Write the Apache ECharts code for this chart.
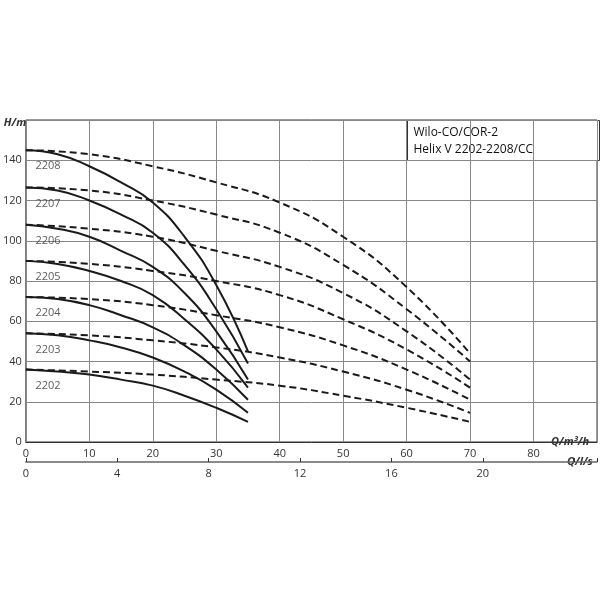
<!DOCTYPE html>
<html>
<head>
  <meta charset="utf-8">
  <style>
  body { margin: 0; background: #fff; }
  #chart { width: 600px; height: 600px; }
  </style>
</head>
<body>
  <div id="chart"></div>
  <script src="https://cdn.jsdelivr.net/npm/echarts@6/dist/echarts.min.js"></script>
  <script>
  // single pump curves, Q in m³/h
  const singleQ = [0, 5, 10, 15, 20, 25, 30, 35];
  // two pumps in parallel
  const dualQ = [0, 10, 20, 30, 40, 50, 60, 70];
  const pumpNames = ['2208', '2207', '2206', '2205', '2204', '2203', '2202'];
  const singleH = [
    [145, 143, 137, 129, 119, 102, 78, 45],
    [126.5, 125, 120, 113, 104, 88, 66, 39],
    [108, 106, 102, 95, 87, 74, 55, 31],
    [90, 88.5, 85, 80, 73, 61, 46, 27],
    [72, 71, 68, 63, 57, 48, 36, 21],
    [54, 53, 50.5, 47, 42, 35, 26, 14.5],
    [36, 35, 33.5, 31, 28, 23, 17, 10]
  ];
  const dualH = [
    [145, 143, 137, 129, 119, 102, 77, 44],
    [126.5, 125, 120, 113, 104, 88, 66, 40],
    [108, 106, 102, 95, 87, 74, 55, 31],
    [90, 88.5, 85, 80, 73, 61, 46, 27],
    [72, 71, 68, 63, 57, 48, 36, 21],
    [54, 53, 50.5, 47, 42, 35, 26, 14.5],
    [36, 35, 33.5, 31, 28, 23, 17, 10]
  ];
  const labelH = [137, 118.5, 100, 82, 64, 46, 28];

  const series = [];
  pumpNames.forEach((n, i) => {
    series.push({
      type: 'line', smooth: true, symbol: 'none', silent: true,
      lineStyle: { color: '#1a1a1a', width: 2 },
      data: singleQ.map((q, j) => [q, singleH[i][j]])
    });
    series.push({
      type: 'line', smooth: true, symbol: 'none', silent: true,
      lineStyle: { color: '#1a1a1a', width: 2, type: [7, 4] },
      data: dualQ.map((q, j) => [q, dualH[i][j]])
    });
  });
  series.push({
    type: 'scatter', symbolSize: 0, silent: true,
    label: { show: true, formatter: p => p.value[2], color: '#333', fontSize: 11, position: 'right', distance: 0, fontFamily: 'Open Sans' },
    data: pumpNames.map((n, i) => [1.5, labelH[i], n])
  });

  const txt = { color: '#333', fontSize: 11, fontFamily: 'Open Sans' };
  const option = {
    animation: false,
    grid: { left: 22, right: 1, top: 120, bottom: 158, show: true, borderColor: '#333', borderWidth: 1 },
    xAxis: [{
      type: 'value', min: 0, max: 90, interval: 10,
      name: 'Q/m³/h', nameLocation: 'end', nameGap: -46,
      nameTextStyle: Object.assign({}, txt, { fontWeight: 'bold', fontStyle: 'italic', padding: [26, 0, 0, 0] }),
      axisLine: { lineStyle: { color: '#333' } },
      axisTick: { show: false },
      axisLabel: Object.assign({}, txt, { margin: 6, formatter: v => (v === 90 ? '' : v) }),
      splitLine: { lineStyle: { color: '#888' } }
    }, {
      type: 'value', min: 0, max: 25, interval: 4, position: 'bottom', offset: 20,
      name: 'Q/l/s', nameLocation: 'end', nameGap: -30,
      nameTextStyle: Object.assign({}, txt, { fontWeight: 'bold', fontStyle: 'italic', padding: [26, 0, 0, 0] }),
      axisLine: { lineStyle: { color: '#666', width: 1.5 } },
      axisTick: { inside: true, length: 4, lineStyle: { color: '#333' } },
      axisLabel: Object.assign({}, txt, { margin: 6, formatter: v => (v > 20 ? '' : v) }),
      splitLine: { show: false }
    }],
    yAxis: {
      type: 'value', min: 0, max: 160, interval: 20,
      name: 'H/m', nameLocation: 'end', nameGap: -8,
      nameTextStyle: Object.assign({}, txt, { fontWeight: 'bold', fontStyle: 'italic', align: 'left', padding: [0, 0, 0, -22] }),
      axisLine: { show: false },
      axisTick: { show: false },
      axisLabel: Object.assign({}, txt, { margin: 4, formatter: v => (v === 160 ? '' : v) }),
      splitLine: { lineStyle: { color: '#888' } }
    },
    graphic: [{
      type: 'group', left: 407, top: 120,
      children: [
        { type: 'rect', shape: { width: 192, height: 40 }, style: { fill: '#fff', stroke: '#333', lineWidth: 1 } },
        { type: 'text', left: 6, top: 4, style: { text: 'Wilo-CO/COR-2\nHelix V 2202-2208/CC', fontSize: 12, lineHeight: 17, fill: '#111', fontFamily: 'Open Sans' } }
      ]
    }],
    series: series
  };
  echarts.init(document.getElementById('chart')).setOption(option);
  </script>
</body>
</html>
